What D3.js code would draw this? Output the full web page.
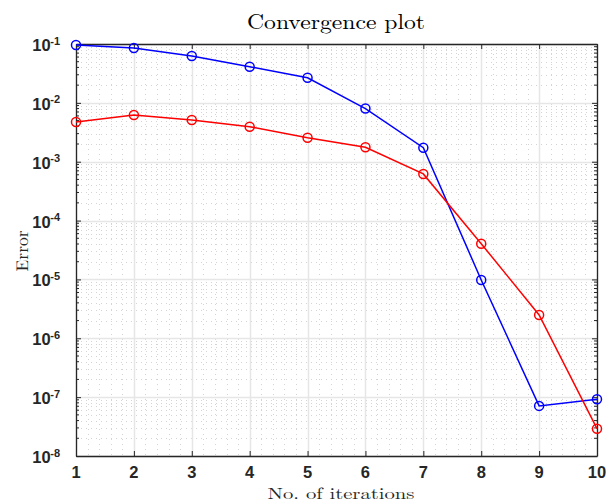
<!DOCTYPE html>
<html><head><meta charset="utf-8">
<script src="https://cdn.jsdelivr.net/npm/d3@7"></script>
<style>body{margin:0;background:#fff}</style>
</head><body>
<svg id="c" width="611" height="503"></svg>
<script>
const iterations = [1,2,3,4,5,6,7,8,9,10];
const blueErr = [0.096, 0.0855, 0.0625, 0.041, 0.0267, 0.0080, 0.00173, 9.8e-6, 7.1e-8, 9.2e-8];
const redErr  = [0.00473, 0.00622, 0.00512, 0.00394, 0.00256, 0.00176, 6.2e-4, 4.05e-5, 2.49e-6, 2.91e-8];
const xTicks = [1,2,3,4,5,6,7,8,9,10];
const yExps = [-1,-2,-3,-4,-5,-6,-7,-8];

const svg = d3.select("#c");
const L=76, R=597, T=44, B=456;
const x = d3.scaleLinear().domain([1,10]).range([L,R]);
const y = d3.scaleLog().domain([1e-8,1e-1]).range([B,T]);

// minor grid
const g = svg.append("g");
const minorX = d3.range(1,10.001,0.2).filter(v=>Math.abs(v-Math.round(v))>1e-6);
g.selectAll(".mx").data(minorX).enter().append("line")
 .attr("x1",d=>Math.round(x(d))+0.5).attr("x2",d=>Math.round(x(d))+0.5).attr("y1",T).attr("y2",B)
 .attr("stroke","#d4d4d4").attr("stroke-width",1).attr("stroke-dasharray","1,4");
const minorY=[];
for(let e=-8;e<-1;e++){for(let k=2;k<=9;k++)minorY.push(k*Math.pow(10,e));}
g.selectAll(".my").data(minorY).enter().append("line")
 .attr("y1",d=>Math.round(y(d))+0.5).attr("y2",d=>Math.round(y(d))+0.5).attr("x1",L).attr("x2",R)
 .attr("stroke","#d4d4d4").attr("stroke-width",1).attr("stroke-dasharray","1,4");
// major grid
g.selectAll(".gx").data(xTicks).enter().append("line")
 .attr("x1",d=>Math.round(x(d))+0.5).attr("x2",d=>Math.round(x(d))+0.5).attr("y1",T).attr("y2",B)
 .attr("stroke","#e6e6e6").attr("stroke-width",1.5);
g.selectAll(".gy").data(yExps).enter().append("line")
 .attr("y1",d=>Math.round(y(Math.pow(10,d)))+0.5).attr("y2",d=>Math.round(y(Math.pow(10,d)))+0.5).attr("x1",L).attr("x2",R)
 .attr("stroke","#e6e6e6").attr("stroke-width",1.5);

// axes
const axCol="#262626";
const xAx = svg.append("g").attr("transform",`translate(0,${B})`)
 .call(d3.axisBottom(x).tickValues(xTicks).tickSizeInner(-5).tickSizeOuter(0).tickFormat(""));
const xTop = svg.append("g").attr("transform",`translate(0,${T})`)
 .call(d3.axisTop(x).tickValues(xTicks).tickSizeInner(-5).tickSizeOuter(0).tickFormat(""));
const yAx = svg.append("g").attr("transform",`translate(${L},0)`)
 .call(d3.axisLeft(y).tickValues(yExps.map(e=>Math.pow(10,e))).tickSizeInner(-5).tickSizeOuter(0).tickFormat(""));
const yR = svg.append("g").attr("transform",`translate(${R},0)`)
 .call(d3.axisRight(y).tickValues(yExps.map(e=>Math.pow(10,e))).tickSizeInner(-5).tickSizeOuter(0).tickFormat(""));
// minor y ticks
[[L,1],[R,-1]].forEach(([px,dir])=>{
 svg.append("g").selectAll("line").data(minorY).enter().append("line")
  .attr("x1",px).attr("x2",px+dir*3).attr("y1",d=>y(d)).attr("y2",d=>y(d))
  .attr("stroke",axCol).attr("stroke-width",1);
});
[xAx,xTop,yAx,yR].forEach(a=>{a.selectAll("path").attr("stroke",axCol).attr("stroke-width",1.3);a.selectAll("line").attr("stroke",axCol);});

const sans="Liberation Sans, Arial, sans-serif";
// x tick labels
svg.append("g").selectAll("text").data(xTicks).enter().append("text")
 .attr("x",d=>x(d)).attr("y",B+22).attr("text-anchor","middle")
 .attr("font-family",sans).attr("font-weight","bold").attr("font-size",16.5).attr("fill","#262626")
 .text(d=>d);

// y tick labels with superscript
const yl = svg.append("g");
yExps.forEach(e=>{
 const t = yl.append("text").attr("x",L-16).attr("y",y(Math.pow(10,e))+7).attr("text-anchor","end")
  .attr("font-family",sans).attr("font-weight","bold").attr("font-size",16.5).attr("fill","#262626");
 t.append("tspan").text("10");
 t.append("tspan").attr("font-size",11).attr("dy",-6.5).attr("dx",-0.5).text(String(e));
});

// lines
const line = d3.line().x((d,i)=>x(iterations[i])).y(d=>y(d));
[[blueErr,"#0000ff"],[redErr,"#ff0000"]].forEach(([data,col])=>{
 svg.append("path").datum(data).attr("d",line).attr("fill","none").attr("stroke",col).attr("stroke-width",1.5);
 svg.append("g").selectAll("circle").data(data).enter().append("circle")
  .attr("cx",(d,i)=>x(iterations[i])).attr("cy",d=>y(d)).attr("r",4.5)
  .attr("fill","none").attr("stroke",col).attr("stroke-width",1.5);
});

// titles
const serif="Latin Modern Roman, CMU Serif, DejaVu Serif, serif";
svg.append("text").attr("x",336).attr("y",29).attr("text-anchor","middle")
 .attr("font-family",serif).attr("font-size",21).attr("fill","#000")
 .attr("textLength",178).attr("lengthAdjust","spacingAndGlyphs").text("Convergence plot");
svg.append("text").attr("x",341).attr("y",499).attr("text-anchor","middle")
 .attr("font-family",serif).attr("font-size",15.5).attr("fill","#262626")
 .attr("textLength",147).attr("lengthAdjust","spacingAndGlyphs").text("No. of iterations");
svg.append("text").attr("transform","translate(28,251) rotate(-90)").attr("text-anchor","middle")
 .attr("font-family",serif).attr("font-size",17).attr("fill","#262626")
 .attr("textLength",41).attr("lengthAdjust","spacingAndGlyphs").text("Error");
</script>
</body></html>
